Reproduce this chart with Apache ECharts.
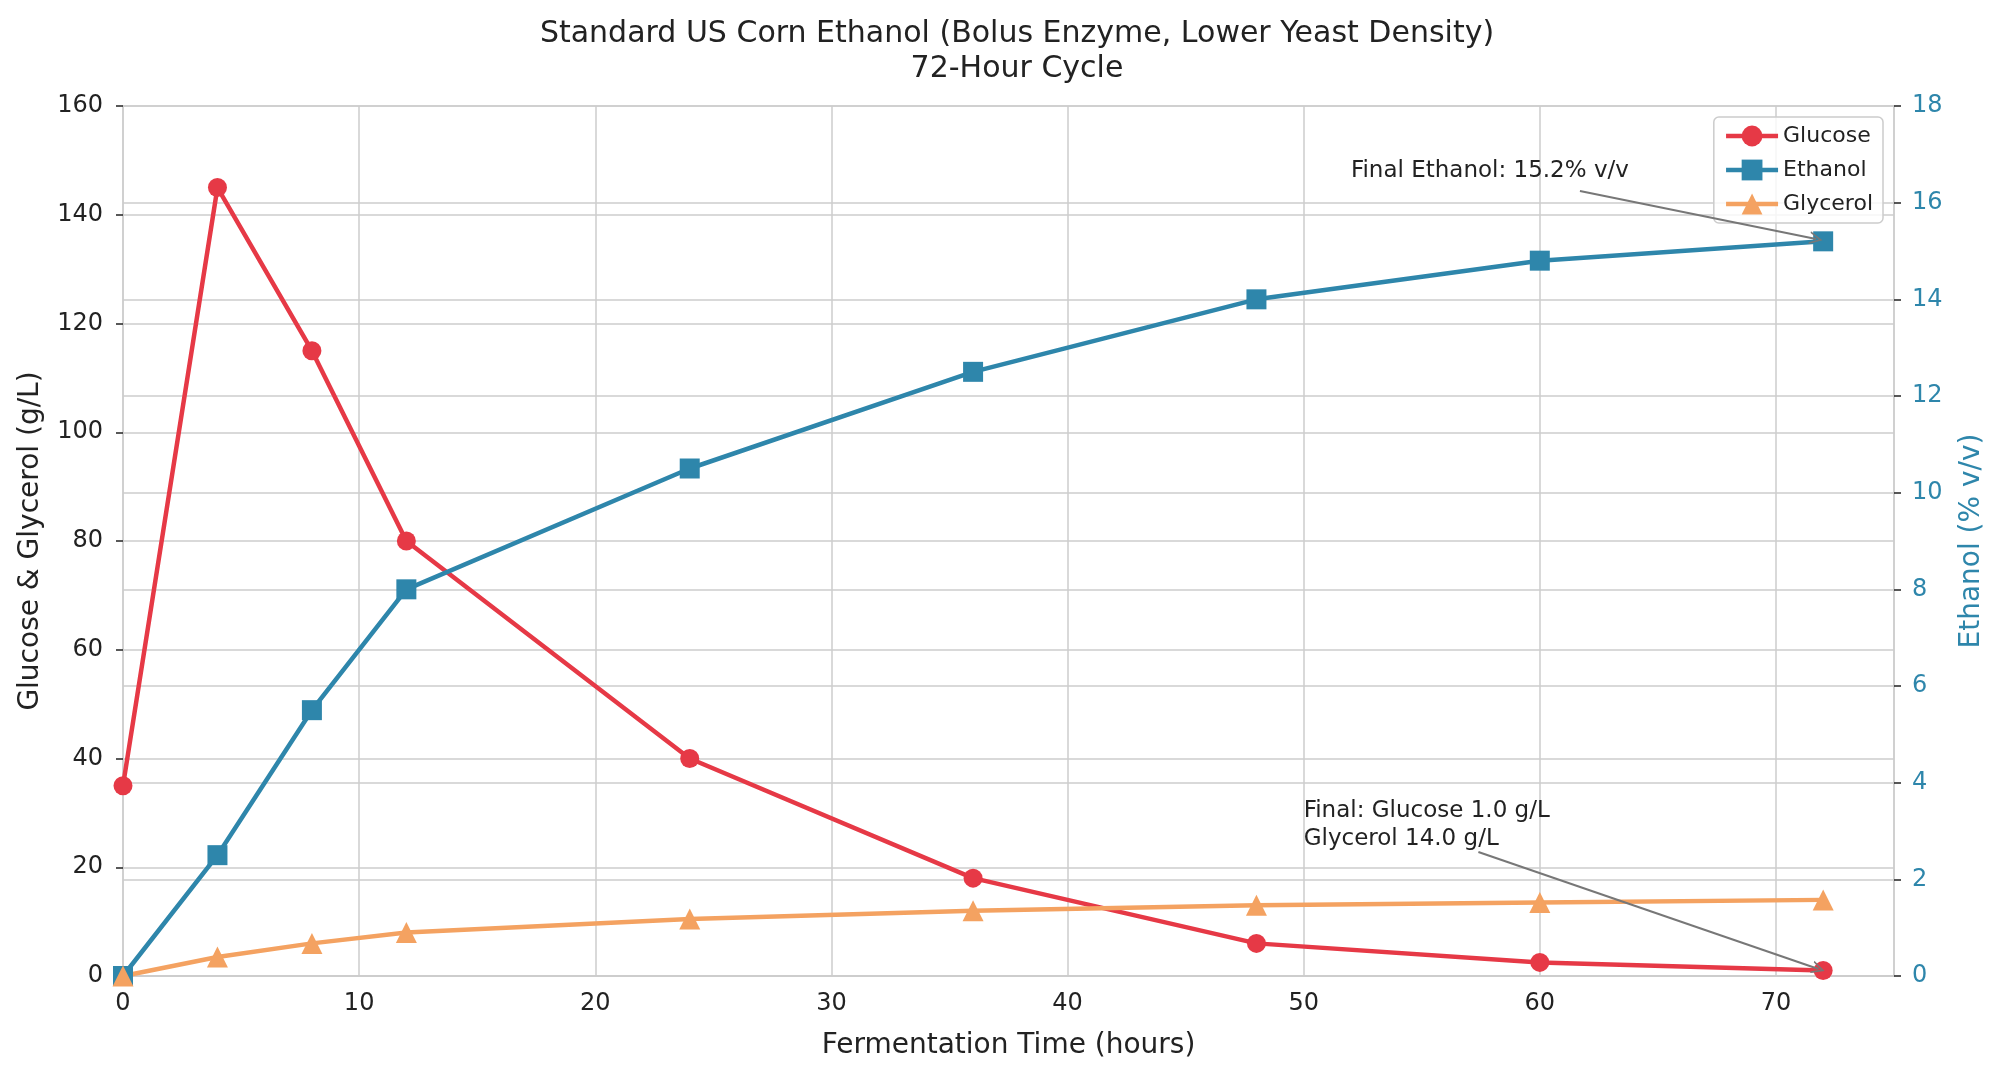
<!DOCTYPE html>
<html>
<head>
<meta charset="utf-8">
<script src="https://cdn.jsdelivr.net/npm/echarts@6/dist/echarts.min.js"></script>
<style>html,body{margin:0;padding:0;background:#fff}#c{width:2000px;height:1076px}</style>
</head>
<body>
<div id="c"></div>
<script>
const hours = [0, 4, 8, 12, 24, 36, 48, 60, 72];
const glucose = [35, 145, 115, 80, 40, 18, 6, 2.5, 1.0];
const ethanol = [0, 2.5, 5.5, 8.0, 10.5, 12.5, 14.0, 14.8, 15.2];
const glycerol = [0, 3.5, 6, 8, 10.5, 12, 13, 13.5, 14.0];
const titleLines = ['Standard US Corn Ethanol (Bolus Enzyme, Lower Yeast Density)', '72-Hour Cycle'];
const ethanolNote = 'Final Ethanol: 15.2% v/v';
const glucoseNote = 'Final: Glucose 1.0 g/L\nGlycerol 14.0 g/L';

const FONT = 'DejaVu Sans';
const C_GLU = '#E63946', C_ETH = '#2E86AB', C_GLY = '#F4A261';
const arrowPath = 'path://M0,10 L5,0 L10,10 L8.6,10 L5,2.8 L1.4,10 Z';

function pairs(ys) { return hours.map((h, i) => [h, ys[i]]); }

const chart = echarts.init(document.getElementById('c'), null, {renderer: 'canvas'});
chart.setOption({
  animation: false,
  backgroundColor: '#fff',
  textStyle: {fontFamily: FONT},
  title: {
    text: titleLines.join('\n'),
    left: 1012, top: 12, textAlign: 'center',
    textStyle: {fontFamily: FONT, fontSize: 30, fontWeight: 'normal', color: '#222', lineHeight: 35}
  },
  grid: {left: 123, right: 106, top: 106, bottom: 100, containLabel: false},
  legend: {
    orient: 'vertical', right: 117, top: 117,
    data: ['Glucose', 'Ethanol', 'Glycerol'],
    backgroundColor: 'rgba(255,255,255,0.8)', borderColor: '#ccc', borderWidth: 1.5, borderRadius: 5,
    padding: [8, 10, 8, 10], itemGap: 12, itemWidth: 52, itemHeight: 26,
    lineStyle: {width: 4.5},
    textStyle: {fontFamily: FONT, fontSize: 22, color: '#222'}
  },
  xAxis: {
    type: 'value', min: 0, max: 75, interval: 10,
    name: 'Fermentation Time (hours)', nameLocation: 'middle', nameGap: 56,
    nameTextStyle: {fontFamily: FONT, fontSize: 28, color: '#222'},
    axisLine: {show: true, onZero: false, lineStyle: {color: '#ccc', width: 1.5}},
    axisTick: {show: false},
    axisLabel: {fontFamily: FONT, fontSize: 24, color: '#222', margin: 16, showMaxLabel: false},
    splitLine: {show: true, lineStyle: {color: '#ccc', width: 1.5}}
  },
  yAxis: [{
    type: 'value', min: 0, max: 160, interval: 20, position: 'left',
    name: 'Glucose & Glycerol (g/L)', nameLocation: 'middle', nameGap: 78, nameRotate: 90,
    nameTextStyle: {fontFamily: FONT, fontSize: 28, color: '#222'},
    axisLine: {show: true, lineStyle: {color: '#ccc', width: 1.5}},
    axisTick: {show: true, length: 7, lineStyle: {color: '#222', width: 1.5}},
    axisLabel: {fontFamily: FONT, fontSize: 24, color: '#222', margin: 20},
    splitLine: {show: true, lineStyle: {color: '#ccc', width: 1.5}}
  }, {
    type: 'value', min: 0, max: 18, interval: 2, position: 'right',
    name: 'Ethanol (% v/v)', nameLocation: 'middle', nameGap: 64, nameRotate: 90,
    nameTextStyle: {fontFamily: FONT, fontSize: 28, color: C_ETH},
    axisLine: {show: true, lineStyle: {color: '#ccc', width: 1.5}},
    axisTick: {show: true, length: 7, lineStyle: {color: '#222', width: 1.5}},
    axisLabel: {fontFamily: FONT, fontSize: 24, color: C_ETH, margin: 18},
    splitLine: {show: true, lineStyle: {color: '#ccc', width: 1.5}}
  }],
  series: [{
    name: 'Glucose', type: 'line', yAxisIndex: 0, data: pairs(glucose),
    symbol: 'circle', symbolSize: 19, z: 3,
    lineStyle: {color: C_GLU, width: 4.5}, itemStyle: {color: C_GLU},
    markLine: {
      silent: true, symbol: ['none', arrowPath], symbolSize: [13, 13],
      lineStyle: {color: '#777', width: 2, type: 'solid'}, label: {show: false},
      data: [[{coord: [57.4, 22.8]}, {coord: [71.8, 1.3]}]]
    },
    markPoint: {
      silent: true, symbol: 'circle', symbolSize: 0,
      label: {show: true, position: [0, 0], align: 'left', verticalAlign: 'bottom',
        formatter: glucoseNote, fontFamily: FONT, fontSize: 23, lineHeight: 28, color: '#222'},
      data: [{coord: [50, 22.6], value: 0}]
    }
  }, {
    name: 'Ethanol', type: 'line', yAxisIndex: 1, data: pairs(ethanol),
    symbol: 'rect', symbolSize: 20, z: 3,
    lineStyle: {color: C_ETH, width: 4.5}, itemStyle: {color: C_ETH},
    markLine: {
      silent: true, symbol: ['none', arrowPath], symbolSize: [13, 13],
      lineStyle: {color: '#777', width: 2, type: 'solid'}, label: {show: false},
      data: [[{coord: [61.7, 16.24]}, {coord: [71.7, 15.25]}]]
    },
    markPoint: {
      silent: true, symbol: 'circle', symbolSize: 0,
      label: {show: true, position: [0, 0], align: 'left', verticalAlign: 'bottom',
        formatter: ethanolNote, fontFamily: FONT, fontSize: 23, color: '#222'},
      data: [{coord: [52, 16.42], value: 0}]
    }
  }, {
    name: 'Glycerol', type: 'line', yAxisIndex: 0, data: pairs(glycerol),
    symbol: 'triangle', symbolSize: 21, z: 3,
    lineStyle: {color: C_GLY, width: 4.5}, itemStyle: {color: C_GLY}
  }]
});
</script>
</body>
</html>
